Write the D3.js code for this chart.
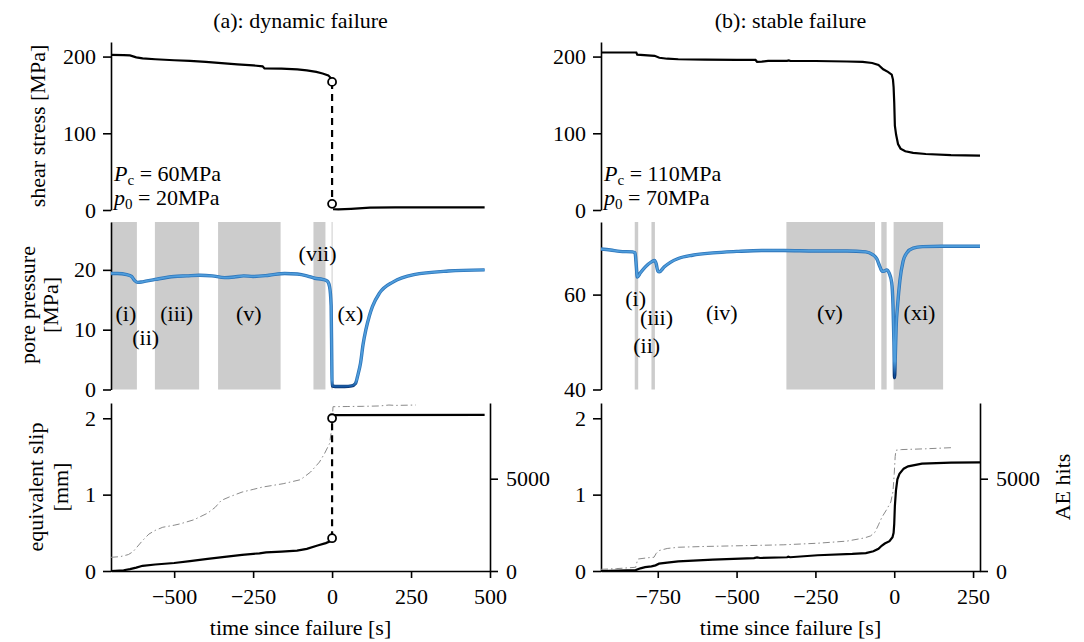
<!DOCTYPE html>
<html>
<head>
<meta charset="utf-8">
<script src="https://cdn.jsdelivr.net/npm/d3@7"></script>
<style>
  body { margin: 0; background: #fff; }
  svg, svg text { font-family: "Liberation Serif", "Times New Roman", Times, serif !important; }
</style>
</head>
<body>
<svg id="chart" width="1084" height="642"></svg>
<script>
/* ---- data: [time since failure (s), value] ---- */

// (a) dynamic failure
var shearA = [[-700,202.3],[-660,202.0],[-640,201.5],[-620,199.0],[-600,197.6],[-560,196.5],[-500,195.2],[-450,194.3],
  [-400,193.2],[-350,191.5],[-300,189.8],[-250,188.5],[-220,187.3],[-214,184.6],[-160,184.2],[-110,183.2],[-80,182],
  [-50,180],[-30,178],[-12,175.5],[-4,172],[0,167]];
var shearA_post = [[3,1.0],[20,0.8],[60,1.5],[120,3.0],[200,3.5],[483,3.5]];
var shearA_drop = [[0,167],[0,8]];

var poreA = [[-700,19.4],[-680,19.4],[-650,19.2],[-635,18.9],[-625,18.2],[-615,17.9],[-600,18.0],[-560,18.4],[-500,18.9],
  [-460,19.0],[-420,19.1],[-380,19.0],[-340,18.7],[-310,18.8],[-280,19.0],[-250,18.9],[-200,19.1],[-150,19.4],[-110,19.3],
  [-80,19.0],[-55,18.6],[-30,18.4],[-15,18.1],[-8,17.2],[-3,14],[-1,5],[0,0.6],[10,0.5],[40,0.5],[62,0.6],[74,1.0],
  [82,2.5],[90,4.4],[98,7.5],[107,10],[118,12.3],[128,13.9],[150,16.1],[194,18.0],[259,19.2],[368,19.8],[483,20.0]];
var bandsA = [[-700,-618],[-561,-421],[-361,-163],[-59,-21]];
var bandLabelsA = [["(i)",-653,12.7],["(ii)",-590,8.7],["(iii)",-492,12.7],["(v)",-264,12.7],["(vii)",-46,22.7],["(x)",58,12.7]];

var slipA = [[-700,0.0],[-660,0.01],[-640,0.025],[-620,0.045],[-600,0.068],[-560,0.085],[-500,0.105],[-450,0.13],
  [-394,0.158],[-340,0.185],[-285,0.212],[-230,0.232],[-209,0.245],[-160,0.255],[-111,0.268],[-80,0.29],[-46,0.333],
  [-20,0.365],[-8,0.385],[0,0.43]];
var slipA_post = [[3,2.04],[483,2.045]];
var slipA_drop = [[0,0.43],[0,2.0]];
var aeA = [[-700,740],[-670,780],[-645,890],[-630,1050],[-620,1250],[-600,1650],[-580,2000],[-560,2200],[-536,2370],
  [-500,2480],[-481,2554],[-438,2772],[-394,3134],[-370,3450],[-351,3822],[-320,4050],[-285,4275],[-250,4420],
  [-220,4547],[-155,4728],[-100,4946],[-68,5362],[-40,5900],[-24,6359],[-8,6902],[-2,7600],[0,8000],[3,8900],
  [50,8910],[100,8920],[150,8940],[180,8990],[200,8970],[265,8990]];

// (b) stable failure
var shearB = [[-930,205.3],[-818,205.3],[-815,202.5],[-760,201],[-745,198.5],[-720,197.2],[-685,196.5],[-600,196],
  [-500,195.8],[-440,195.6],[-435,193.2],[-420,193.4],[-400,194.3],[-340,194.5],[-335,195],[-330,194.4],[-250,194.2],
  [-150,193.6],[-100,193],[-70,191.6],[-50,189],[-35,183.5],[-20,180],[-8,176.5],[-4,170],[-2,160],[0,140],[2,110],
  [6,98],[12,86],[20,80],[35,76.5],[60,74.5],[100,73],[180,71.5],[272,70.8]];

var poreB = [[-930,69.6],[-900,69.4],[-870,69.1],[-830,69.0],[-822,68.8],[-818,66],[-815,63.7],[-805,64.6],[-790,65.8],
  [-770,66.9],[-760,67.2],[-755,66.5],[-750,65],[-745,64.8],[-730,65.8],[-710,66.8],[-685,67.6],[-640,68.3],[-575,68.8],
  [-500,69.1],[-420,69.3],[-350,69.3],[-250,69.2],[-150,69.2],[-90,69.0],[-70,68.5],[-55,67.5],[-45,65.8],[-38,64.9],
  [-30,65.0],[-24,65.2],[-16,64.5],[-8,62.5],[-4,58],[-1,50],[1,42.5],[3,46],[6,53],[11,58],[18,63],[28,67],[40,68.8],
  [60,69.8],[90,70.1],[150,70.2],[272,70.2]];
var bandsB = [[-823,-812],[-770,-759],[-342,-61],[-41,-24],[-2,155]];
var bandLabelsB = [["(i)",-820,59.2],["(ii)",-785,49.3],["(iii)",-754,55.2],["(iv)",-547,56.3],["(v)",-204,56.3],["(xi)",80,56.3]];

var slipB = [[-930,0.0],[-820,0.012],[-805,0.035],[-790,0.05],[-770,0.06],[-757,0.074],[-746,0.096],[-720,0.11],
  [-685,0.127],[-575,0.149],[-445,0.168],[-435,0.178],[-425,0.17],[-340,0.18],[-336,0.188],[-330,0.18],[-243,0.206],
  [-133,0.223],[-90,0.235],[-66,0.258],[-50,0.29],[-40,0.33],[-30,0.36],[-15,0.39],[-5.5,0.442],[-2,0.5],[0,0.617],
  [2,0.85],[5.5,1.055],[10,1.2],[16.6,1.273],[30,1.34],[44,1.37],[88,1.405],[180,1.418],[272,1.422]];
var aeB = [[-930,90],[-880,130],[-820,200],[-815,550],[-812,650],[-780,720],[-762,743],[-755,950],[-746,1105],
  [-720,1220],[-685,1286],[-600,1330],[-464,1377],[-350,1420],[-243,1504],[-150,1620],[-94,1793],[-75,1900],
  [-61,2101],[-50,2500],[-39,2917],[-25,3300],[-11,3732],[-4,4300],[0,5272],[3,6200],[5.5,6540],[22,6576],
  [100,6620],[188,6685]];

// ticks
var xTicksA = [-500, -250, 0, 250, 500];
var xTicksB = [-750, -500, -250, 0, 250];
var shearTicks = [0, 100, 200];
var poreTicksA = [0, 10, 20];
var poreTicksB = [40, 60];
var slipTicks = [0, 1, 2];
var aeTicks = [0, 5000];

/* ---- layout ---- */
var svg = d3.select("#chart");
var FS = 22;
var FONT = "'Liberation Serif', 'Times New Roman', Times, serif";
var rows = {top: [210, 42], mid: [389.5, 222], bot: [571, 403]};
var fmt = d3.format("d");

function styleAxis(g) {
  g.attr("font-family", FONT).attr("font-size", FS);
  g.selectAll("path.domain").attr("stroke", "#000").attr("stroke-width", 1.6);
  g.selectAll(".tick line").attr("stroke", "#000").attr("stroke-width", 1.6);
  g.selectAll(".tick text").attr("font-size", FS).attr("fill", "#000").attr("font-family", FONT);
}

function blackPath(g, data, gen, dash) {
  var p = g.append("path").datum(data).attr("d", gen)
    .attr("fill", "none").attr("stroke", "#000").attr("stroke-width", 2.2);
  if (dash) p.attr("stroke-dasharray", dash);
  return p;
}

function drawColumn(c) {
  var x = d3.scaleLinear().domain(c.xDomain).range(c.xRange);
  var yShear = d3.scaleLinear().domain([0, 219]).range(rows.top);
  var yPore = d3.scaleLinear().domain(c.poreDomain).range(rows.mid);
  var ySlip = d3.scaleLinear().domain([0, 2.2]).range(rows.bot);
  var yAE = d3.scaleLinear().domain([0, 9100]).range(rows.bot);
  var g = svg.append("g").attr("font-family", FONT);

  // title
  g.append("text")
    .attr("x", (c.xRange[0] + c.xRange[1]) / 2).attr("y", 28)
    .attr("text-anchor", "middle").attr("font-size", FS)
    .text(c.title);

  /* shear stress */
  g.append("g").attr("transform", "translate(" + c.xRange[0] + ",0)")
    .call(d3.axisLeft(yShear).tickValues(shearTicks).tickFormat(fmt).tickSize(8).tickSizeOuter(0).tickPadding(7))
    .call(styleAxis);

  var ln = d3.line().x(d => x(d[0])).y(d => yShear(d[1]));
  blackPath(g, c.shear, ln);
  if (c.shearPost) {
    blackPath(g, c.shearPost, ln);
    blackPath(g, c.shearDrop, ln, "7,5");
    g.selectAll("circle.sd").data(c.shearDrop).enter().append("circle")
      .attr("cx", d => x(d[0])).attr("cy", d => yShear(d[1])).attr("r", 4)
      .attr("fill", "#fff").attr("stroke", "#000").attr("stroke-width", 1.8);
  }

  var ann = g.append("text").attr("font-size", FS);
  var l1 = ann.append("tspan").attr("x", c.xRange[0] + 3).attr("y", 181);
  l1.append("tspan").attr("font-style", "italic").text("P");
  l1.append("tspan").attr("font-size", 15).attr("dy", 4).text("c");
  l1.append("tspan").attr("dy", -4).text(" = " + c.pc + "MPa");
  var l2 = ann.append("tspan").attr("x", c.xRange[0] + 3).attr("y", 205);
  l2.append("tspan").attr("font-style", "italic").text("p");
  l2.append("tspan").attr("font-size", 15).attr("dy", 4).text("0");
  l2.append("tspan").attr("dy", -4).text(" = " + c.p0 + "MPa");

  /* pore pressure */
  g.selectAll("rect.band").data(c.bands).enter().append("rect")
    .attr("x", d => x(d[0])).attr("width", d => x(d[1]) - x(d[0]))
    .attr("y", rows.mid[1]).attr("height", rows.mid[0] - rows.mid[1])
    .attr("fill", "#cccccc");
  if (c.zeroLine) {
    g.append("line").attr("x1", x(0)).attr("x2", x(0))
      .attr("y1", rows.mid[1]).attr("y2", rows.mid[0])
      .attr("stroke", "#cccccc").attr("stroke-width", 1);
  }
  g.selectAll("text.band").data(c.bandLabels).enter().append("text")
    .attr("x", d => x(d[1])).attr("y", d => yPore(d[2]))
    .attr("text-anchor", "middle").attr("dominant-baseline", "central")
    .attr("font-size", FS).text(d => d[0]);

  g.append("g").attr("transform", "translate(" + c.xRange[0] + ",0)")
    .call(d3.axisLeft(yPore).tickValues(c.poreTicks).tickFormat(fmt).tickSize(8).tickSizeOuter(0).tickPadding(7))
    .call(styleAxis);

  // blue line, darkening at the low end
  var gid = "grad" + c.id;
  var defs = svg.append("defs");
  [["o", "#2c74b9", "#08306b"], ["i", "#4f9ddc", "#0c4c99"]].forEach(function (s) {
    var gr = defs.append("linearGradient").attr("id", gid + s[0])
      .attr("gradientUnits", "userSpaceOnUse")
      .attr("x1", 0).attr("x2", 0)
      .attr("y1", yPore(c.darkAt[0])).attr("y2", yPore(c.darkAt[1]));
    gr.append("stop").attr("offset", 0).attr("stop-color", s[1]);
    gr.append("stop").attr("offset", 1).attr("stop-color", s[2]);
  });
  var lp = d3.line().curve(d3.curveMonotoneX).x(d => x(d[0])).y(d => yPore(d[1]));
  g.append("path").datum(c.pore).attr("d", lp)
    .attr("fill", "none").attr("stroke", "url(#" + gid + "o)").attr("stroke-width", 3.4);
  g.append("path").datum(c.pore).attr("d", lp)
    .attr("fill", "none").attr("stroke", "url(#" + gid + "i)").attr("stroke-width", 1.8);

  /* slip + AE */
  g.append("g").attr("transform", "translate(0," + rows.bot[0] + ")")
    .call(d3.axisBottom(x).tickValues(c.xTicks).tickFormat(fmt).tickSize(7).tickSizeOuter(0).tickPadding(10))
    .call(styleAxis);
  g.append("g").attr("transform", "translate(" + c.xRange[0] + ",0)")
    .call(d3.axisLeft(ySlip).tickValues(slipTicks).tickFormat(fmt).tickSize(8).tickSizeOuter(0).tickPadding(7))
    .call(styleAxis);
  g.append("g").attr("transform", "translate(" + c.xRange[1] + ",0)")
    .call(d3.axisRight(yAE).tickValues(aeTicks).tickFormat(fmt).tickSize(8).tickSizeOuter(0).tickPadding(8))
    .call(styleAxis);

  var la = d3.line().x(d => x(d[0])).y(d => yAE(d[1]));
  g.append("path").datum(c.ae).attr("d", la)
    .attr("fill", "none").attr("stroke", "#8a8a8a").attr("stroke-width", 1)
    .attr("stroke-dasharray", "7,3,1.5,3");

  var ls = d3.line().x(d => x(d[0])).y(d => ySlip(d[1]));
  blackPath(g, c.slip, ls);
  if (c.slipPost) {
    blackPath(g, c.slipPost, ls);
    blackPath(g, c.slipDrop, ls, "7,5");
    g.selectAll("circle.sl").data(c.slipDrop).enter().append("circle")
      .attr("cx", d => x(d[0])).attr("cy", d => ySlip(d[1])).attr("r", 4)
      .attr("fill", "#fff").attr("stroke", "#000").attr("stroke-width", 1.8);
  }

  g.append("text")
    .attr("x", (c.xRange[0] + c.xRange[1]) / 2).attr("y", 635)
    .attr("text-anchor", "middle").attr("font-size", FS)
    .text("time since failure [s]");
}

drawColumn({
  id: "A", title: "(a): dynamic failure",
  xDomain: [-700, 500], xRange: [111, 490], xTicks: xTicksA,
  shear: shearA, shearPost: shearA_post, shearDrop: shearA_drop, pc: 60, p0: 20,
  pore: poreA, poreDomain: [0, 28], poreTicks: poreTicksA, darkAt: [1.6, 0.3],
  bands: bandsA, bandLabels: bandLabelsA, zeroLine: true,
  slip: slipA, slipPost: slipA_post, slipDrop: slipA_drop, ae: aeA
});

drawColumn({
  id: "B", title: "(b): stable failure",
  xDomain: [-930, 272], xRange: [601, 980], xTicks: xTicksB,
  shear: shearB, pc: 110, p0: 70,
  pore: poreB, poreDomain: [40, 75.3], poreTicks: poreTicksB, darkAt: [46, 43],
  bands: bandsB, bandLabels: bandLabelsB, zeroLine: false,
  slip: slipB, ae: aeB
});

/* axis titles */
function vLabel(x, y, txt) {
  svg.append("text")
    .attr("transform", "translate(" + x + "," + y + ") rotate(-90)")
    .attr("text-anchor", "middle").attr("dominant-baseline", "central")
    .attr("font-family", FONT).attr("font-size", FS).text(txt);
}
vLabel(37, 126, "shear stress [MPa]");
vLabel(27, 305, "pore pressure");
vLabel(50, 305, "[MPa]");
vLabel(35, 487, "equivalent slip");
vLabel(60, 487, "[mm]");
vLabel(1062, 487, "AE hits");
</script>
</body>
</html>
